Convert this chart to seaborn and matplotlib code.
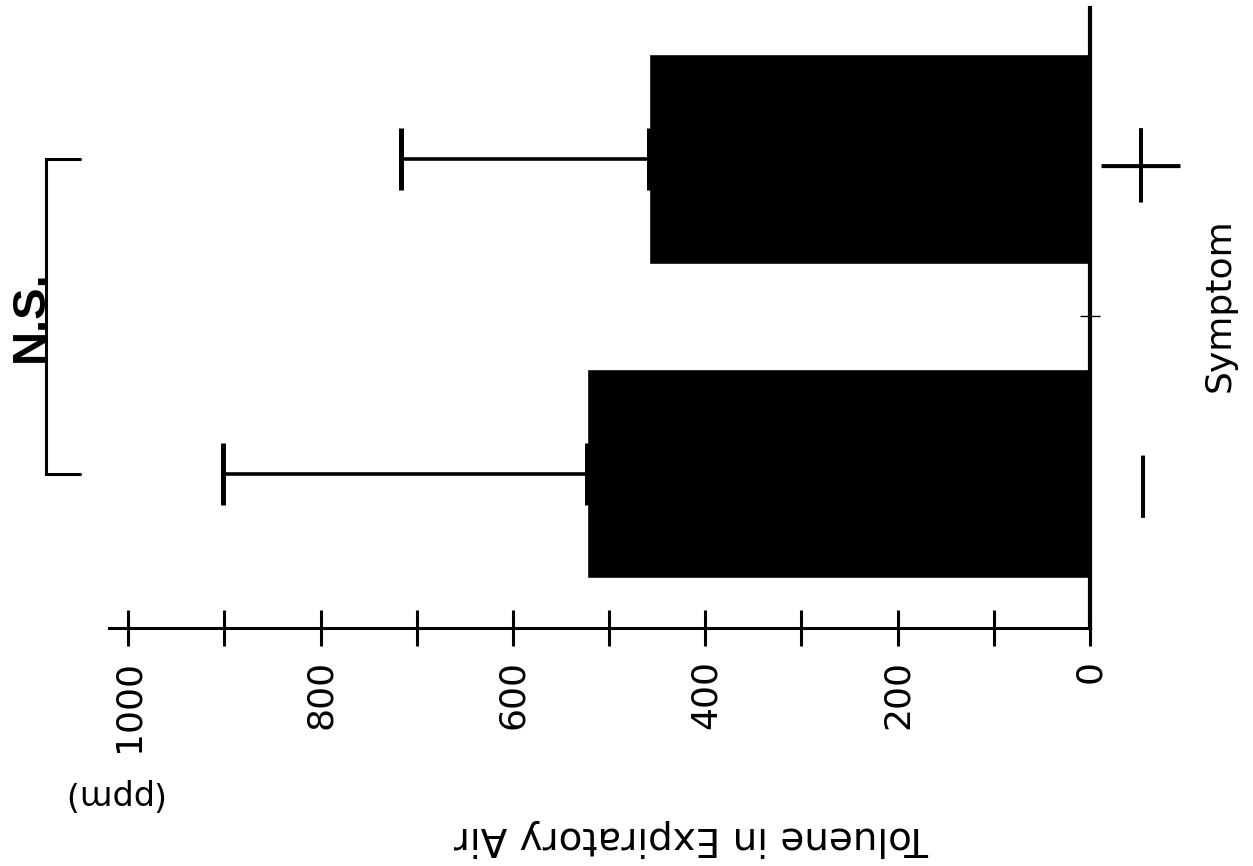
import matplotlib
matplotlib.use("Agg")
import matplotlib.pyplot as plt
from matplotlib.ticker import FixedLocator
import seaborn as sns
import pandas as pd

# ---- data ----
categories = ["−", "+"]          # Symptom absent / present
means = [523, 459]               # toluene (ppm)
sds = [378, 257]                 # one-sided SD
value_ticks = [0, 100, 200, 300, 400, 500, 600, 700, 800, 900, 1000]
value_ticklabels = ["0", "", "200", "", "400", "", "600", "", "800", "", "1000"]
value_label = "Toluene in Expiratory Air"
unit_label = "(ppm)"
cat_label = "Symptom"
sig_label = "N.S."

sns.set_theme(style="ticks")
plt.rcParams["font.family"] = ["DejaVu Sans"]

W, H = 1253, 866
fig = plt.figure(figsize=(W / 100, H / 100), dpi=100)
fig.patch.set_facecolor("white")
ax_left, ax_right, ax_top, ax_bottom = 109, 1090, 8, 628
ax = fig.add_axes([ax_left / W, 1 - ax_bottom / H,
                   (ax_right - ax_left) / W, (ax_bottom - ax_top) / H])
ax.set_facecolor("white")

df = pd.DataFrame({"Symptom": categories, "Toluene": means})
sns.barplot(data=df, x="Toluene", y="Symptom", order=categories, orient="h",
            color="black", saturation=1, width=0.665, errorbar=None, ax=ax)

# one-sided error bars (mean + SD)
pos = list(range(len(categories)))
ax.errorbar(means, pos, xerr=[[0] * len(sds), sds], fmt="none",
            ecolor="black", elinewidth=2.6, capsize=22, capthick=3.6, zorder=3)

ax.set_xlim(1020, 0)
ax.set_ylim(-0.491, 1.480)

# value axis (bottom)
ax.set_xticks(value_ticks)
ax.set_xticklabels(value_ticklabels, rotation=90, fontsize=26)
ax.tick_params(axis="x", which="major", direction="inout", length=26, width=2.2,
               pad=10, bottom=True, top=False, colors="black")
ax.set_xlabel(value_label, rotation=180, fontsize=28, color="black")
ax.xaxis.label.set_va("center")
ax.xaxis.label.set_ha("center")
ax.xaxis.set_label_coords((692 - ax_left) / (ax_right - ax_left),
                          (ax_bottom - 838) / (ax_bottom - ax_top))
ax.text((112 - ax_left) / (ax_right - ax_left), (ax_bottom - 795) / (ax_bottom - ax_top),
        unit_label, rotation=180, transform=ax.transAxes, ha="center", va="center",
        fontsize=24, color="black")

# category axis (right)
ax.yaxis.tick_right()
ax.yaxis.set_label_position("right")
ax.yaxis.set_minor_locator(FixedLocator([0.5]))
ax.tick_params(axis="y", which="major", length=0, pad=40, left=False, right=True)
ax.tick_params(axis="y", which="minor", length=14, width=1.0, direction="inout",
               left=False, right=True, color="black")
for lbl in ax.get_yticklabels():
    lbl.set_rotation(90)
    lbl.set_ha("center")
    lbl.set_va("center")
    lbl.set_fontsize(110)
    lbl.set_family(["Roboto", "DejaVu Sans"])
    lbl.set_fontweight(100)
    lbl.set_color("black")
ax.set_ylabel(cat_label, rotation=90, fontsize=26, color="black")
ax.yaxis.label.set_va("center")
ax.yaxis.label.set_ha("center")
ax.yaxis.set_label_coords((1220 - ax_left) / (ax_right - ax_left),
                          (ax_bottom - 305) / (ax_bottom - ax_top))

for s in ["top", "left"]:
    ax.spines[s].set_visible(False)
ax.spines["bottom"].set_linewidth(2.2)
ax.spines["bottom"].set_color("black")
ax.spines["right"].set_linewidth(3.0)
ax.spines["right"].set_color("black")

# significance bracket between the two groups
bracket_x, bracket_tip = 1086, 1050
ax.plot([bracket_tip, bracket_x, bracket_x, bracket_tip], [pos[0], pos[0], pos[1], pos[1]],
        color="black", lw=2.2, clip_on=False, solid_joinstyle="miter")
ax.text(1078, (pos[0] + pos[1]) / 2, sig_label, rotation=90, ha="right", va="center",
        fontsize=34, fontweight="bold", family=["Liberation Sans", "DejaVu Sans"],
        color="black", clip_on=False)

fig.savefig("out.png", dpi=100, facecolor="white")
